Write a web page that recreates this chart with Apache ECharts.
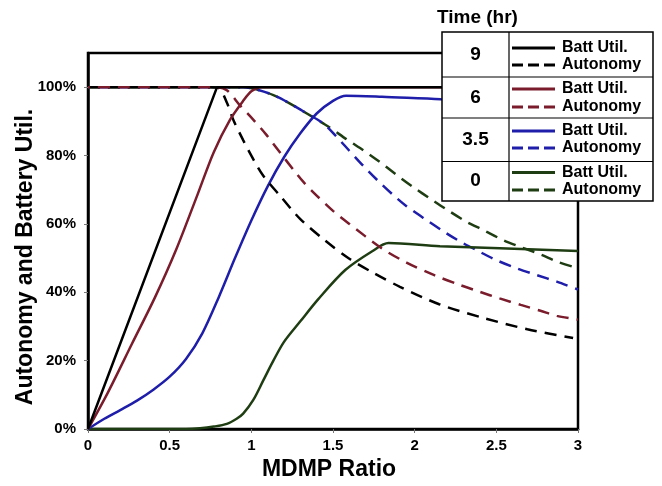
<!DOCTYPE html>
<html>
<head>
<meta charset="utf-8">
<script src="https://cdn.jsdelivr.net/npm/echarts@6/dist/echarts.min.js"></script>
<style>html,body{margin:0;padding:0;background:#fff;}#chart{width:662px;height:486px;}</style>
</head>
<body>
<div id="chart"></div>
<script>
// ---- data (MDMP ratio, %) ----
const xTickLabels = ['0', '0.5', '1', '1.5', '2', '2.5', '3'];
const yTickLabels = ['0%', '20%', '40%', '60%', '80%', '100%'];
const timeLabels = ['9', '6', '3.5', '0'];
const seriesNames = ['Batt Util.', 'Autonomy'];

const batt9 = [[0,0],[0.79,100],[3,100]];
const aut9 = [[0,100],[0.75,100],[0.8,99.8],[0.85,95.5],[0.89,90.4],[0.95,84.5],[1.01,79.1],[1.07,74.3],[1.18,68],[1.3,61.4],[1.45,55.2],[1.6,49.8],[1.75,45.6],[1.91,41.6],[2.15,36.5],[2.42,32.5],[2.69,29.2],[2.97,26.6]];
const batt6 = [[0,0],[0.12,10.5],[0.27,25],[0.41,38.5],[0.54,52.5],[0.67,68.5],[0.77,81],[0.87,90.5],[0.95,96],[1.0,98.8],[1.06,100],[3,100]];
const aut6 = [[0,100],[0.78,100],[0.85,99.1],[0.93,94.7],[1.01,90.6],[1.09,86.2],[1.18,80.6],[1.26,75.7],[1.32,72.2],[1.4,68.3],[1.5,63.8],[1.6,60],[1.8,52.8],[1.95,48.7],[2.12,45],[2.28,42.1],[2.4,40.1],[2.52,38.2],[2.65,36.3],[2.77,34.6],[2.87,33.1],[3,32]];
const batt35 = [[0,0],[0.1,3],[0.2,5.6],[0.3,8.3],[0.4,11.5],[0.5,15.3],[0.6,20.5],[0.7,28],[0.8,38.5],[0.9,50],[1.0,61],[1.1,71],[1.2,79.5],[1.3,86.5],[1.4,92.3],[1.5,96],[1.58,97.5],[1.8,97.2],[2.16,96.5],[3,95.5]];
const aut35 = [[0,100],[0.95,100],[1.01,99.6],[1.135,97.7],[1.237,95.2],[1.34,92.3],[1.44,89.4],[1.52,85.6],[1.6,81.4],[1.685,77],[1.776,72.6],[1.87,68.4],[1.95,65.2],[2.07,61.2],[2.18,57.7],[2.28,54.8],[2.4,51.8],[2.5,49.4],[2.625,47],[2.75,45],[2.87,43.1],[3,40.8]];
const batt0 = [[0,0],[0.6,0],[0.686,0.2],[0.77,0.7],[0.85,1.5],[0.91,3],[0.95,4.5],[1.012,8.5],[1.074,14.3],[1.135,20],[1.2,25.5],[1.3,31.5],[1.41,38],[1.575,46.5],[1.74,52],[1.84,54.4],[2.155,53.5],[3,52.1]];
const aut0 = [[0,100],[0.95,100],[1.01,99.6],[1.135,97.7],[1.237,95.2],[1.34,92.3],[1.44,89.4],[1.48,88.2],[1.588,84.6],[1.69,81.4],[1.79,78],[1.89,74.3],[1.996,70.6],[2.098,67.3],[2.196,64.2],[2.318,60.6],[2.42,58.2],[2.54,55.3],[2.645,53.3],[2.77,51.1],[2.87,49],[3,47]];

const colors = { t9: '#000000', t6: '#7a1c2c', t35: '#1e1eaa', t0: '#1f3d12' };
const FONT = '"Liberation Sans", Arial, sans-serif';

function line(data, color, dashed, offset, smooth) {
  return {
    type: 'line', data: data, symbol: 'none', smooth: smooth === undefined ? 0.3 : smooth,
    lineStyle: { color: color, width: 2.5, type: dashed ? [12, 8] : 'solid', dashOffset: offset || 0, cap: 'butt' },
    silent: true, animation: false
  };
}

const chart = echarts.init(document.getElementById('chart'), null, { renderer: 'canvas' });

// legend table
const boxL = 442, boxR = 653, boxT = 32, boxB = 201, divX = 509;
const rowEdges = [32, 77, 118, 161.5, 201];
const rowColors = [colors.t9, colors.t6, colors.t35, colors.t0];
const lineYs = [[48, 65], [89, 107], [131, 148], [172.5, 190]];
const graphics = [];
graphics.push({ type: 'rect', z: 100, shape: { x: boxL, y: boxT, width: boxR - boxL, height: boxB - boxT }, style: { fill: '#fff', stroke: '#000', lineWidth: 1.5 } });
graphics.push({ type: 'line', z: 101, shape: { x1: divX, y1: boxT, x2: divX, y2: boxB }, style: { stroke: '#000', lineWidth: 1.2 } });
for (let i = 1; i < 4; i++) {
  graphics.push({ type: 'line', z: 101, shape: { x1: boxL, y1: rowEdges[i], x2: boxR, y2: rowEdges[i] }, style: { stroke: '#000', lineWidth: 1.2 } });
}
for (let i = 0; i < 4; i++) {
  graphics.push({ type: 'text', z: 102, x: (boxL + divX) / 2, y: (rowEdges[i] + rowEdges[i + 1]) / 2,
    style: { text: timeLabels[i], font: 'bold 19px ' + FONT, fill: '#000', textAlign: 'center', textVerticalAlign: 'middle' } });
  for (let j = 0; j < 2; j++) {
    graphics.push({ type: 'line', z: 102, shape: { x1: 512, y1: lineYs[i][j], x2: 555, y2: lineYs[i][j] },
      style: { stroke: rowColors[i], lineWidth: 3, lineDash: j === 1 ? [11, 5] : null } });
    graphics.push({ type: 'text', z: 102, x: 562, y: lineYs[i][j],
      style: { text: seriesNames[j], font: 'bold 16px ' + FONT, fill: '#000', textAlign: 'left', textVerticalAlign: 'middle' } });
  }
}
graphics.push({ type: 'text', z: 102, x: 437, y: 18, style: { text: 'Time (hr)', font: 'bold 19px ' + FONT, fill: '#000', textAlign: 'left', textVerticalAlign: 'middle' } });
graphics.push({ type: 'text', z: 102, x: 329, y: 470, style: { text: 'MDMP Ratio', font: 'bold 23px ' + FONT, fill: '#000', textAlign: 'center', textVerticalAlign: 'middle' } });
graphics.push({ type: 'text', z: 102, x: 26, y: 257, rotation: Math.PI / 2, style: { text: 'Autonomy and Battery Util.', font: 'bold 23px ' + FONT, fill: '#000', textAlign: 'center', textVerticalAlign: 'middle' } });

chart.setOption({
  animation: false,
  grid: { left: 88, right: 84, top: 53, bottom: 57, show: true, borderColor: '#000', borderWidth: 2.5, backgroundColor: 'transparent' },
  xAxis: {
    type: 'value', min: 0, max: 3, interval: 0.5,
    axisLine: { show: true, lineStyle: { color: '#000', width: 2.5 } },
    axisTick: { show: true, length: 4, lineStyle: { color: '#777', width: 1 } },
    splitLine: { show: false },
    axisLabel: { margin: 9, color: '#000', fontFamily: FONT, fontWeight: 'bold', fontSize: 15,
      formatter: v => xTickLabels[Math.round(v / 0.5)] }
  },
  yAxis: {
    type: 'value', min: 0, max: 110, interval: 20,
    axisLine: { show: true, lineStyle: { color: '#000', width: 2.5 } },
    axisTick: { show: true, length: 4, lineStyle: { color: '#777', width: 1 } },
    splitLine: { show: false },
    axisLabel: { margin: 12, color: '#000', fontFamily: FONT, fontWeight: 'bold', fontSize: 15, showMaxLabel: false,
      formatter: v => (v % 20 === 0 && v <= 100) ? yTickLabels[v / 20] : '' }
  },
  series: [
    line(aut0, colors.t0, true, 0),
    line(aut35, colors.t35, true, 10),
    line(batt0, colors.t0, false),
    line(batt35, colors.t35, false),
    line(aut9, colors.t9, true, 0),
    line(aut6, colors.t6, true, 10),
    line(batt6, colors.t6, false),
    line(batt9, colors.t9, false, 0, false)
  ],
  graphic: graphics
});
</script>
</body>
</html>
